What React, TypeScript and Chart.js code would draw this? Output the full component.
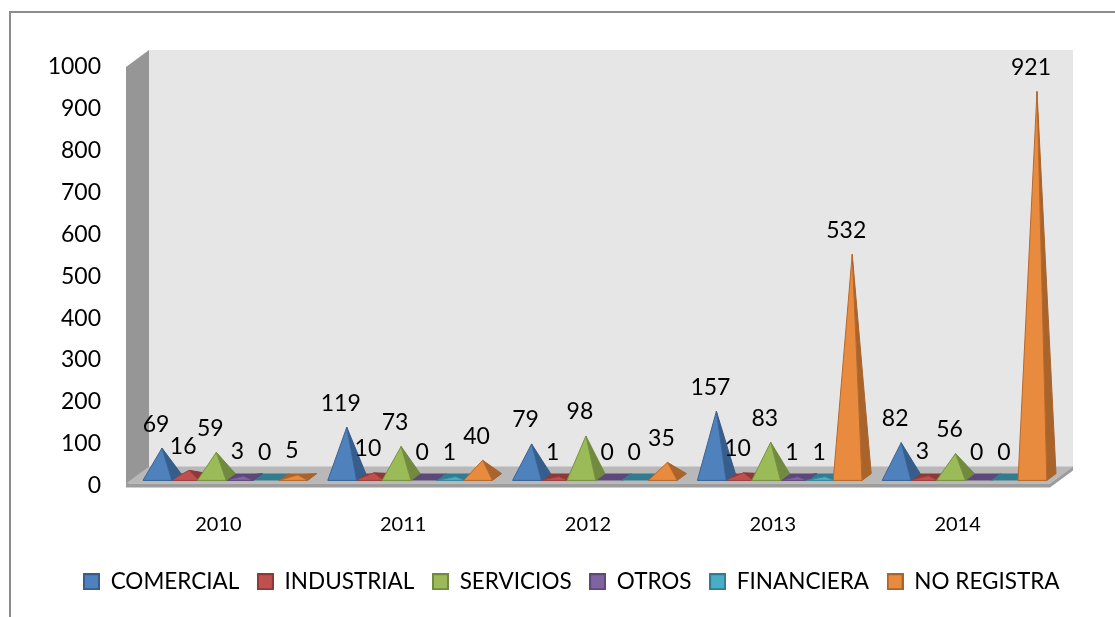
import { useEffect, useRef } from "react";
import { Chart, registerables } from "chart.js";

Chart.register(...registerables);

const categories = ["2010", "2011", "2012", "2013", "2014"];
const seriesNames = ["COMERCIAL", "INDUSTRIAL", "SERVICIOS", "OTROS", "FINANCIERA", "NO REGISTRA"];
const comercial = [69, 119, 79, 157, 82];
const industrial = [16, 10, 1, 10, 3];
const servicios = [59, 73, 98, 83, 56];
const otros = [3, 0, 0, 1, 0];
const financiera = [0, 1, 0, 1, 0];
const noRegistra = [5, 40, 35, 532, 921];
const yMin = 0;
const yMax = 1000;
const yStep = 100;

const frontColors = ["#4F81BD", "#C0504D", "#9BBB59", "#8064A2", "#4BACC6", "#E98B3E"];
const sideColors = ["#375D8B", "#8C3A38", "#718A3F", "#5C4879", "#327C90", "#A9642B"];
const edgeColors = ["#3A6395", "#9A3E3B", "#76923F", "#62497F", "#35869B", "#B8682C"];

const FONT = "Lato, 'Open Sans', sans-serif";
const DX = 23; // floor depth (x)
const DY = 17; // floor depth (y)

function makeKey(fill: string, stroke: string) {
  const c = document.createElement("canvas");
  c.width = 17;
  c.height = 17;
  const g = c.getContext("2d")!;
  g.fillStyle = stroke;
  g.fillRect(0, 0, 17, 17);
  g.fillStyle = fill;
  g.fillRect(2, 2, 13, 13);
  return c;
}

const pyramidPlugin = {
  id: "pyramid3d",
  beforeDraw(chart: any) {
    const { ctx, chartArea } = chart;
    const { left, right, top, bottom } = chartArea;
    ctx.save();
    ctx.strokeStyle = "#8C8C8C";
    ctx.lineWidth = 2;
    ctx.strokeRect(10, 12, 1300, 800);
    ctx.fillStyle = "#E6E6E6";
    ctx.fillRect(left + DX, top - DY, right - left, bottom - top);
    ctx.fillStyle = "#969696";
    ctx.beginPath();
    ctx.moveTo(left, top);
    ctx.lineTo(left + DX, top - DY);
    ctx.lineTo(left + DX, bottom - DY);
    ctx.lineTo(left, bottom);
    ctx.closePath();
    ctx.fill();
    ctx.fillStyle = "#B8B8B8";
    ctx.beginPath();
    ctx.moveTo(left, bottom - 2);
    ctx.lineTo(right, bottom - 2);
    ctx.lineTo(right + DX, bottom - DY - 2);
    ctx.lineTo(left + DX, bottom - DY - 2);
    ctx.closePath();
    ctx.fill();
    ctx.fillStyle = "#9C9C9C";
    ctx.fillRect(left, bottom - 2, right - left, 4);
    ctx.beginPath();
    ctx.moveTo(right, bottom - 2);
    ctx.lineTo(right + DX, bottom - DY - 2);
    ctx.lineTo(right + DX, bottom - DY + 2);
    ctx.lineTo(right, bottom + 2);
    ctx.closePath();
    ctx.fill();
    ctx.restore();
  },
  beforeDatasetDraw() {
    return false;
  },
  afterDatasetsDraw(chart: any) {
    const { ctx } = chart;
    const items: any[] = [];
    chart.data.datasets.forEach((ds: any, di: number) => {
      const meta = chart.getDatasetMeta(di);
      meta.data.forEach((el: any, i: number) => {
        items.push({ el, di, value: ds.data[i] });
      });
    });
    const geo = (el: any) => {
      const c = el.x;
      const base = el.base;
      const h = el.width * 0.53;
      const a = 0.2;
      const ft = 0.5 - a;
      const bt = 0.5 + a;
      return {
        FL: [c - h + DX * ft, base - DY * ft],
        FR: [c + h + DX * ft, base - DY * ft],
        BR: [c + h + DX * bt, base - DY * bt],
        BL: [c - h + DX * bt, base - DY * bt],
        AP: [c + DX * 0.5, el.y - DY * 0.5],
      };
    };
    ctx.save();
    items.forEach(({ el, di }) => {
      const g = geo(el);
      ctx.fillStyle = sideColors[di];
      ctx.beginPath();
      ctx.moveTo(g.FL[0], g.FL[1]);
      ctx.lineTo(g.FR[0], g.FR[1]);
      ctx.lineTo(g.BR[0], g.BR[1]);
      ctx.lineTo(g.BL[0], g.BL[1]);
      ctx.closePath();
      ctx.fill();
    });
    const sorted = items.filter((it) => it.value > 0).sort((p, q) => p.value - q.value);
    sorted.forEach(({ el, di }) => {
      const g = geo(el);
      ctx.lineWidth = 1;
      ctx.lineJoin = "round";
      ctx.fillStyle = sideColors[di];
      ctx.strokeStyle = sideColors[di];
      ctx.beginPath();
      ctx.moveTo(g.AP[0], g.AP[1]);
      ctx.lineTo(g.FR[0], g.FR[1]);
      ctx.lineTo(g.BR[0], g.BR[1]);
      ctx.closePath();
      ctx.fill();
      ctx.stroke();
      ctx.fillStyle = frontColors[di];
      ctx.strokeStyle = edgeColors[di];
      ctx.beginPath();
      ctx.moveTo(g.AP[0], g.AP[1]);
      ctx.lineTo(g.FL[0], g.FL[1]);
      ctx.lineTo(g.FR[0], g.FR[1]);
      ctx.closePath();
      ctx.fill();
      ctx.stroke();
    });
    ctx.fillStyle = "#000000";
    ctx.font = `23px ${FONT}`;
    ctx.textAlign = "center";
    ctx.textBaseline = "middle";
    items.forEach(({ el, value }) => {
      const g = geo(el);
      ctx.fillText(String(value), g.AP[0] - 6, g.AP[1] - 24);
    });
    ctx.restore();
  },
};

export default function App() {
  const ref = useRef<HTMLCanvasElement>(null);
  useEffect(() => {
    if (!ref.current) return;
    const seriesValues = [comercial, industrial, servicios, otros, financiera, noRegistra];
    const keys = seriesNames.map((_, i) => makeKey(frontColors[i], sideColors[i]));
    const chart = new Chart(ref.current, {
      type: "bar",
      data: {
        labels: categories,
        datasets: seriesNames.map((name, i) => ({
          label: name,
          data: seriesValues[i],
          backgroundColor: frontColors[i],
          borderColor: sideColors[i],
          borderWidth: 1,
          categoryPercentage: 0.882,
          barPercentage: 1,
        })),
      },
      options: {
        animation: false,
        responsive: false,
        layout: { padding: { top: 67, left: 46, right: 18, bottom: 14 } },
        plugins: {
          tooltip: { enabled: false },
          title: { display: false },
          legend: {
            position: "bottom",
            labels: {
              usePointStyle: true,
              boxWidth: 16,
              boxHeight: 16,
              padding: 18,
              color: "#000000",
              font: { family: FONT, size: 22.5 },
              generateLabels: (ch: any) =>
                ch.data.datasets.map((ds: any, i: number) => ({
                  text: ds.label,
                  fillStyle: frontColors[i],
                  strokeStyle: sideColors[i],
                  lineWidth: 0,
                  pointStyle: keys[i],
                  rotation: 0,
                  hidden: false,
                  datasetIndex: i,
                  fontColor: "#000000",
                })),
            },
          },
        },
        scales: {
          x: {
            grid: { display: false, drawTicks: false },
            border: { display: false },
            ticks: { color: "#000000", font: { family: FONT, size: 20 }, padding: 27 },
            afterFit: (s: any) => {
              s.height = 67;
            },
          },
          y: {
            min: yMin,
            max: yMax,
            grid: { display: false, drawTicks: false },
            border: { display: false },
            ticks: {
              stepSize: yStep,
              color: "#000000",
              font: { family: FONT, size: 23 },
              padding: 25,
              callback: (v: any) => String(v),
            },
            afterFit: (s: any) => {
              s.width = 80;
            },
          },
          y2: {
            position: "right",
            display: true,
            grid: { display: false, drawTicks: false },
            border: { display: false },
            ticks: { display: false },
            afterFit: (s: any) => {
              s.width = 47;
            },
          },
        },
      },
      plugins: [pyramidPlugin],
    });
    return () => chart.destroy();
  }, []);
  return (
    <div style={{ position: "fixed", left: 0, top: 0, width: 1115, height: 617, background: "#ffffff" }}>
      <canvas ref={ref} width={1115} height={617} />
    </div>
  );
}
